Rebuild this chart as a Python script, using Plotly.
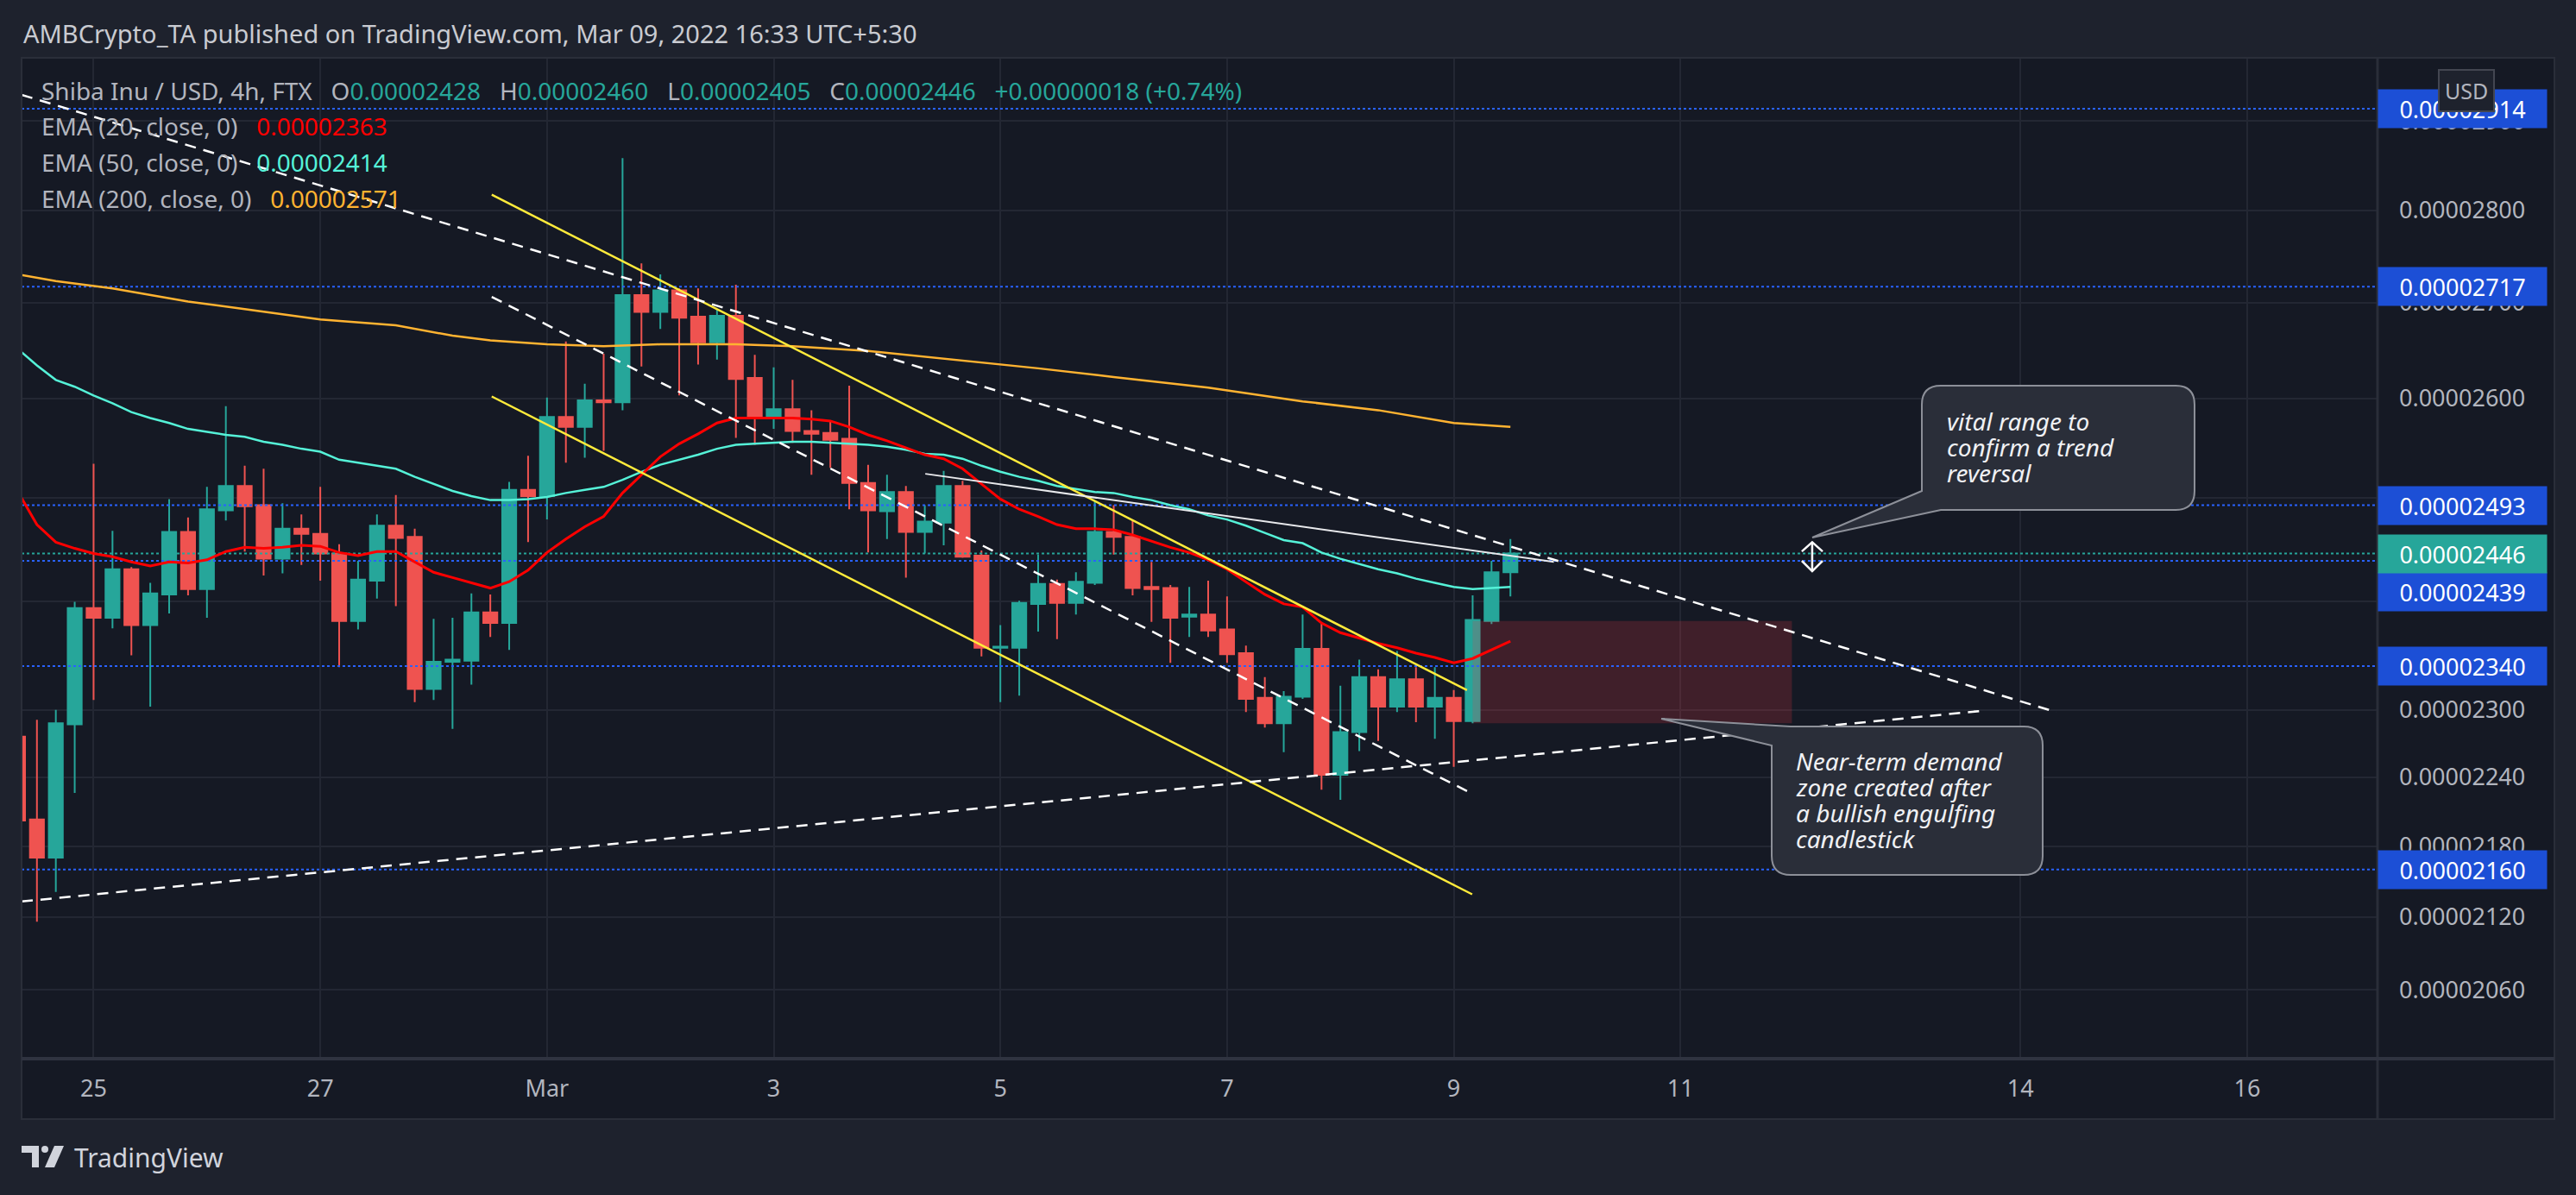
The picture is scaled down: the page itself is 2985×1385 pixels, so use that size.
import numpy as np
import pandas as pd
import plotly.graph_objects as go

FONT = "Noto Sans"
UP, DOWN = "#26a69a", "#ef5350"
GREY = "#b2b5be"
PANE = "#151924"
OUTER = "#1e222d"
GRID = "#232733"
LEVEL_BLUE = "#2962ff"
BOX_BLUE = "#1c4fd6"

# SHIB/USD 4h bars on FTX, times in UTC+5:30, prices in units of 1e-8 USD
first_bar = "2022-02-24 09:30"
opens = [2276, 2203, 2170, 2287, 2394, 2385, 2431, 2378, 2407, 2467,
         2412, 2488, 2512, 2493, 2441, 2470, 2465, 2446, 2382, 2420,
         2473, 2462, 2319, 2344, 2345, 2390, 2380, 2508, 2502, 2581,
         2571, 2598, 2596, 2708, 2690, 2713, 2685, 2658, 2686, 2621,
         2581, 2589, 2567, 2565, 2559, 2515, 2487, 2506, 2467, 2476,
         2512, 2444, 2357, 2357, 2398, 2417, 2399, 2418, 2467, 2462,
         2414, 2413, 2386, 2388, 2374, 2352, 2311, 2288, 2312, 2356,
         2242, 2280, 2330, 2303, 2328, 2303, 2311, 2290, 2382, 2428]
highs = [2282, 2291, 2300, 2400, 2534, 2468, 2433, 2418, 2499, 2481,
         2511, 2592, 2532, 2529, 2495, 2484, 2511, 2455, 2439, 2484,
         2503, 2470, 2384, 2385, 2408, 2407, 2516, 2542, 2601, 2659,
         2615, 2646, 2858, 2742, 2730, 2715, 2715, 2693, 2719, 2645,
         2632, 2619, 2588, 2576, 2613, 2533, 2523, 2512, 2493, 2527,
         2517, 2449, 2378, 2401, 2445, 2421, 2428, 2497, 2493, 2479,
         2438, 2416, 2414, 2420, 2405, 2359, 2330, 2317, 2388, 2380,
         2322, 2346, 2337, 2354, 2339, 2339, 2318, 2406, 2439, 2460]
lows = [2195, 2116, 2141, 2226, 2309, 2375, 2350, 2303, 2389, 2406,
        2385, 2478, 2448, 2425, 2427, 2435, 2420, 2339, 2374, 2403,
        2396, 2307, 2309, 2283, 2323, 2367, 2355, 2457, 2479, 2535,
        2540, 2547, 2588, 2633, 2672, 2603, 2635, 2640, 2560, 2553,
        2569, 2555, 2523, 2530, 2489, 2447, 2460, 2423, 2446, 2454,
        2442, 2349, 2307, 2313, 2372, 2365, 2388, 2416, 2445, 2406,
        2381, 2343, 2367, 2367, 2343, 2298, 2284, 2262, 2310, 2229,
        2220, 2263, 2272, 2298, 2289, 2274, 2249, 2288, 2379, 2405]
closes = [2202, 2170, 2288, 2394, 2385, 2431, 2378, 2408, 2467, 2412,
          2489, 2512, 2492, 2441, 2470, 2465, 2446, 2382, 2421, 2473,
          2461, 2319, 2344, 2346, 2390, 2380, 2508, 2502, 2581, 2571,
          2598, 2596, 2708, 2690, 2713, 2684, 2658, 2686, 2620, 2581,
          2589, 2567, 2564, 2558, 2515, 2488, 2506, 2467, 2477, 2512,
          2443, 2357, 2358, 2399, 2417, 2399, 2419, 2467, 2462, 2413,
          2412, 2385, 2388, 2373, 2351, 2310, 2288, 2312, 2356, 2242,
          2280, 2330, 2303, 2328, 2303, 2311, 2290, 2383, 2428, 2446]

# indicator values (same bars)
ema20 = [2506, 2474, 2457, 2451, 2446, 2443, 2438, 2434, 2438, 2437,
         2440, 2448, 2452, 2451, 2452, 2454, 2453, 2447, 2444, 2448,
         2448, 2438, 2428, 2423, 2418, 2413, 2419, 2430, 2447, 2460,
         2472, 2482, 2505, 2523, 2541, 2554, 2564, 2575, 2580, 2580,
         2580, 2580, 2579, 2577, 2571, 2563, 2557, 2550, 2543, 2539,
         2529, 2514, 2499, 2489, 2482, 2474, 2470, 2470, 2469, 2464,
         2458, 2452, 2447, 2440, 2431, 2419, 2407, 2398, 2395, 2380,
         2371, 2366, 2361, 2357, 2352, 2348, 2343, 2347, 2355, 2363]
ema50 = [2651, 2634, 2619, 2612, 2603, 2595, 2586, 2580, 2575, 2569,
         2566, 2563, 2561, 2556, 2553, 2549, 2546, 2538, 2535, 2532,
         2529, 2521, 2514, 2507, 2502, 2498, 2498, 2499, 2501, 2505,
         2508, 2511, 2518, 2526, 2533, 2538, 2543, 2549, 2553, 2554,
         2555, 2556, 2556, 2555, 2554, 2553, 2551, 2548, 2544, 2543,
         2539, 2532, 2526, 2521, 2517, 2512, 2509, 2506, 2505, 2501,
         2498, 2493, 2489, 2483, 2479, 2473, 2466, 2459, 2456, 2447,
         2441, 2436, 2431, 2427, 2422, 2418, 2414, 2412, 2413, 2414]
ema200_bar = [0, 2, 5, 9, 12, 16, 20, 23, 25, 28, 31, 34, 38, 41, 45, 49,
              54, 58, 63, 68, 72, 76, 79]
ema200 = [2730, 2723, 2715, 2701, 2693, 2682, 2676, 2665, 2660, 2656, 2654,
          2656, 2656, 2654, 2649, 2641, 2631, 2622, 2611, 2597, 2588, 2575,
          2571]

levels = [2914, 2717, 2493, 2439, 2340, 2160]
level_label_shift = {2439: -36}   # label pushed down by the last-price label
last_price = 2446
last_ohlc = [2428, 2460, 2405, 2446]
last_change = 18
last_pct = 0.74

# drawings (time, price)
upper_dash_t = ["2022-02-24 10:15", "2022-03-14 09:06"]
upper_dash_p = [2930, 2298]
lower_dash_t = ["2022-02-24 10:15", "2022-03-13 16:54"]
lower_dash_p = [2133, 2299]
mid_dash_t = ["2022-02-28 13:48", "2022-03-09 05:36"]
mid_dash_p = [2706, 2225]
yellow_top_t = ["2022-02-28 13:48", "2022-03-09 04:18"]
yellow_top_p = [2817, 2318]
yellow_bot_t = ["2022-02-28 13:48", "2022-03-09 05:24"]
yellow_bot_p = [2602, 2139]
white_t = ["2022-03-04 09:36", "2022-03-09 22:42"]
white_p = [2524, 2438]
zone_t = ["2022-03-09 05:30", "2022-03-12 01:06"]
zone_p = [2288, 2382]
arrow_t = ["2022-03-12 03:12", "2022-03-12 05:24", "2022-03-12 07:36"]
arrow_p = [2448, 2457, 2439, 2429]  # top chevron, top tip, bottom chevron, bottom tip

x_range = ["2022-02-24 10:15", "2022-03-17 05:06"]
y_range = [2005, 2973]
x_ticks = ["2022-02-25 01:30", "2022-02-27 01:30", "2022-03-01 01:30",
           "2022-03-03 01:30", "2022-03-05 01:30", "2022-03-07 01:30",
           "2022-03-09 01:30", "2022-03-11 01:30", "2022-03-14 01:30",
           "2022-03-16 01:30"]
x_labels = ["25", "27", "Mar", "3", "5", "7", "9", "11", "14", "16"]
y_ticks = [2060, 2120, 2180, 2240, 2300, 2400, 2500, 2600, 2700, 2800, 2900]
y_hidden = [2500]  # fully under the 2493 price label

S = 1e-8


def p(v):
    return np.asarray(v, dtype=float) * S


times = pd.date_range(first_bar, periods=len(opens), freq="4h")

# plot-area geometry in pixels
W, H = 2985, 1385
L, R, T, B = 25, 2755, 67, 1227


def fx(px):
    return (px - L) / (R - L)


def fy(py):
    return (B - py) / (B - T)


fig = go.Figure()

# demand zone
fig.add_trace(go.Scatter(
    x=[zone_t[0], zone_t[1], zone_t[1], zone_t[0], zone_t[0]],
    y=p([zone_p[0], zone_p[0], zone_p[1], zone_p[1], zone_p[0]]),
    fill="toself", fillcolor="rgba(242,54,69,0.2)", mode="lines",
    line=dict(width=0), hoverinfo="skip"))

# horizontal levels
for v in levels:
    fig.add_trace(go.Scatter(x=x_range, y=p([v, v]), mode="lines",
                             line=dict(color=LEVEL_BLUE, width=2, dash="dot"),
                             hoverinfo="skip"))
fig.add_trace(go.Scatter(x=x_range, y=p([last_price, last_price]), mode="lines",
                         line=dict(color=UP, width=2, dash="dot"),
                         hoverinfo="skip"))

fig.add_trace(go.Candlestick(
    x=times, open=p(opens), high=p(highs), low=p(lows), close=p(closes),
    increasing=dict(line=dict(color=UP, width=2), fillcolor=UP),
    decreasing=dict(line=dict(color=DOWN, width=2), fillcolor=DOWN),
    whiskerwidth=0, hoverinfo="skip"))

# EMAs
fig.add_trace(go.Scatter(x=times[ema200_bar], y=p(ema200), mode="lines",
                         line=dict(color="#ffb331", width=2.5), hoverinfo="skip"))
fig.add_trace(go.Scatter(x=times, y=p(ema50), mode="lines",
                         line=dict(color="#55f2d8", width=2.5), hoverinfo="skip"))
fig.add_trace(go.Scatter(x=times, y=p(ema20), mode="lines",
                         line=dict(color="#ff0000", width=3), hoverinfo="skip"))

# drawings
for tt, pp in [(yellow_top_t, yellow_top_p), (yellow_bot_t, yellow_bot_p)]:
    fig.add_trace(go.Scatter(x=tt, y=p(pp), mode="lines",
                             line=dict(color="#ffeb3b", width=2.5), hoverinfo="skip"))
for tt, pp in [(upper_dash_t, upper_dash_p), (lower_dash_t, lower_dash_p),
               (mid_dash_t, mid_dash_p)]:
    fig.add_trace(go.Scatter(x=tt, y=p(pp), mode="lines",
                             line=dict(color="#ffffff", width=2.5, dash="13px,9px"),
                             hoverinfo="skip"))
fig.add_trace(go.Scatter(x=white_t, y=p(white_p), mode="lines",
                         line=dict(color="#e8e9ec", width=2), hoverinfo="skip"))
# double arrow
fig.add_trace(go.Scatter(
    x=[arrow_t[0], arrow_t[1], arrow_t[2], None, arrow_t[1], arrow_t[1], None,
       arrow_t[0], arrow_t[1], arrow_t[2]],
    y=p([arrow_p[0], arrow_p[1], arrow_p[0], np.nan, arrow_p[1], arrow_p[3], np.nan,
         arrow_p[2], arrow_p[3], arrow_p[2]]),
    mode="lines", line=dict(color="#ffffff", width=2.5), hoverinfo="skip"))

annotations = []
shapes = []


def ann(x, y, text, size=28, color=GREY, xanchor="left", **kw):
    d = dict(xref="paper", yref="paper", x=fx(x), y=fy(y), text=text,
             showarrow=False, xanchor=xanchor, yanchor="middle",
             font=dict(family=FONT, size=size, color=color))
    d.update(kw)
    annotations.append(d)


def fmt(v):
    return f"{v * S:.8f}"


def span(txt, c):
    return f"<span style='color:{c}'>{txt}</span>"


sp = "\u00a0\u00a0\u00a0"
ann(25, 38, "AMBCrypto_TA published on TradingView.com, Mar 09, 2022 16:33 UTC+5:30",
    size=29, color="#c9cbd1")
o, h, l, c = last_ohlc
ann(46, 105, "Shiba Inu / USD, 4h, FTX" + sp + "O" + span(fmt(o), UP) + sp + "H" +
    span(fmt(h), UP) + sp + "L" + span(fmt(l), UP) + sp + "C" + span(fmt(c), UP) +
    sp + span(f"+{fmt(last_change)} (+{last_pct:.2f}%)", UP))
ann(46, 146, "EMA (20, close, 0)" + sp + span(fmt(ema20[-1]), "#ff0000"))
ann(46, 188, "EMA (50, close, 0)" + sp + span(fmt(ema50[-1]), "#55f2d8"))
ann(46, 230, "EMA (200, close, 0)" + sp + span(fmt(ema200[-1]), "#ffb331"))

# price-scale labels
for v, col in [(x, BOX_BLUE) for x in levels] + [(last_price, UP)]:
    annotations.append(dict(
        xref="paper", yref="y", x=1, y=np.log10(v * S), xanchor="left",
        yanchor="middle", yshift=level_label_shift.get(v, 0), text=fmt(v),
        showarrow=False, bgcolor=col, width=191, height=40, borderpad=2,
        align="center", font=dict(family=FONT, size=27, color="#ffffff")))
ann(2858, 105, "USD", size=25, xanchor="center", bgcolor=OUTER,
    bordercolor="#434651", borderwidth=2, borderpad=6)

# callouts
co_text_a = ["vital range to", "confirm a trend", "reversal"]
co_text_b = ["Near-term demand", "zone created after", "a bullish engulfing", "candlestick"]
for i, t in enumerate(co_text_a):
    ann(2254, 488 + 30 * i, f"<i>{t}</i>", color="#f0f1f4")
for i, t in enumerate(co_text_b):
    ann(2079, 882 + 30 * i, f"<i>{t}</i>", color="#f0f1f4")


def path(pts):
    out = []
    for cmd, *xy in pts:
        coords = " ".join(f"{fx(xy[k]):.5f},{fy(xy[k + 1]):.5f}" for k in range(0, len(xy), 2))
        out.append(cmd + coords)
    return " ".join(out) + " Z"


callout_a = path([("M", 2249, 447), ("L", 2521, 447), ("Q", 2543, 447, 2543, 469),
                  ("L", 2543, 569), ("Q", 2543, 591, 2521, 591), ("L", 2249, 591),
                  ("L", 2100, 623), ("L", 2227, 569), ("L", 2227, 469),
                  ("Q", 2227, 447, 2249, 447)])
callout_b = path([("M", 2075, 842), ("L", 2345, 842), ("Q", 2367, 842, 2367, 864),
                  ("L", 2367, 992), ("Q", 2367, 1014, 2345, 1014), ("L", 2075, 1014),
                  ("Q", 2053, 1014, 2053, 992), ("L", 2053, 864), ("L", 1925, 833)])
for pth in (callout_a, callout_b):
    shapes.append(dict(type="path", xref="paper", yref="paper", path=pth,
                       fillcolor="#2a2e39", line=dict(color="#8d9099", width=2),
                       layer="above"))

# frame: price-axis strip, time-axis strip, separators
shapes.append(dict(type="rect", xref="paper", yref="paper", x0=1, x1=fx(2960),
                   y0=fy(1297), y1=1, fillcolor=PANE, line=dict(width=0), layer="below"))
shapes.append(dict(type="rect", xref="paper", yref="paper", x0=0, x1=1,
                   y0=fy(1297), y1=0, fillcolor=PANE, line=dict(width=0), layer="below"))
shapes.append(dict(type="rect", xref="paper", yref="paper", x0=0, x1=fx(2960),
                   y0=fy(1297), y1=1, fillcolor="rgba(0,0,0,0)",
                   line=dict(color="#2a2e39", width=2), layer="above"))
shapes.append(dict(type="line", xref="paper", yref="paper", x0=1, x1=1,
                   y0=fy(1297), y1=1, line=dict(color="#2a2e39", width=3), layer="above"))
shapes.append(dict(type="line", xref="paper", yref="paper", x0=0, x1=fx(2960),
                   y0=0, y1=0, line=dict(color="#2f3340", width=4), layer="above"))

# TradingView logo
shapes.append(dict(type="path", xref="paper", yref="paper", layer="above",
                   path=path([("M", 25, 1328), ("L", 45, 1328), ("L", 45, 1353),
                              ("L", 37, 1353), ("L", 37, 1336), ("L", 25, 1336)]),
                   fillcolor="#d1d4dc", line=dict(width=0)))
shapes.append(dict(type="circle", xref="paper", yref="paper", layer="above",
                   x0=fx(48), x1=fx(56), y0=fy(1336), y1=fy(1328),
                   fillcolor="#d1d4dc", line=dict(width=0)))
shapes.append(dict(type="path", xref="paper", yref="paper", layer="above",
                   path=path([("M", 63, 1328), ("L", 74, 1328), ("L", 63, 1353),
                              ("L", 52, 1353)]),
                   fillcolor="#d1d4dc", line=dict(width=0)))
ann(84, 1342, "TradingView", size=30, color="#d1d4dc")

fig.update_layout(
    width=W, height=H,
    margin=dict(l=L, r=W - R, t=T, b=H - B, autoexpand=False),
    paper_bgcolor=OUTER, plot_bgcolor=PANE,
    showlegend=False, boxgap=0.26, boxgroupgap=0,
    annotations=annotations, shapes=shapes,
    font=dict(family=FONT, color=GREY),
    xaxis=dict(type="date", range=x_range, rangeslider=dict(visible=False),
               tickvals=x_ticks, ticktext=x_labels, showgrid=True,
               gridcolor=GRID, gridwidth=1.5, zeroline=False, showline=False,
               ticks="", ticklabelstandoff=16, automargin=False,
               tickfont=dict(family=FONT, size=27, color=GREY)),
    yaxis=dict(type="log", side="right", range=list(np.log10(p(y_range))),
               tickvals=p(y_ticks),
               ticktext=["" if v in y_hidden else fmt(v) for v in y_ticks],
               showgrid=True, gridcolor=GRID, gridwidth=1.5, zeroline=False,
               showline=False, ticks="", ticklabelstandoff=24, automargin=False,
               tickfont=dict(family=FONT, size=27, color=GREY)),
)

fig.write_html("out.html", config={"displayModeBar": False},
               post_script="document.body.style.margin='0px';")
